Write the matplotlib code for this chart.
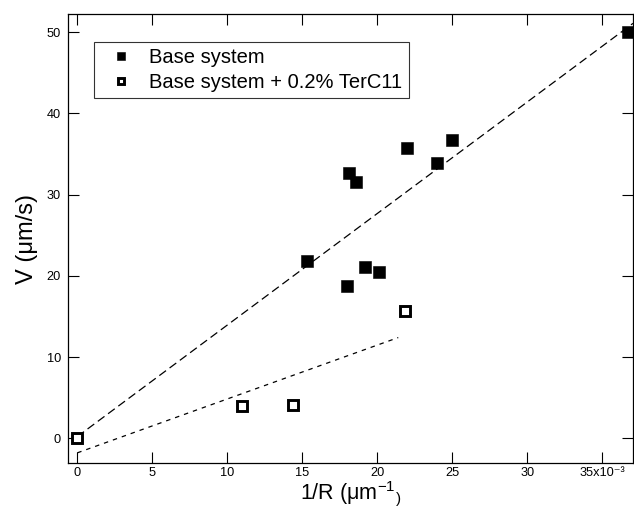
import matplotlib
matplotlib.use("Agg")
import matplotlib.pyplot as plt

# Datos (1/R en unidades de 1e-3 µm^-1, V en µm/s)
base_x = [15.3, 18.1, 18.6, 18.0, 19.2, 20.1, 22.0, 24.0, 25.0, 36.7]
base_y = [21.8, 32.7, 31.6, 18.8, 21.1, 20.5, 35.8, 33.9, 36.7, 50.0]
terc_x = [0.0, 11.0, 14.4, 21.85]
terc_y = [0.0, 4.0, 4.1, 15.7]

# Rectas de ajuste (extremos)
fit_base_x = [0.0, 37.05]
fit_base_y = [0.2, 51.1]
fit_terc_x = [0.0, 21.4]
fit_terc_y = [-1.8, 12.4]

x_ticks = [0, 5, 10, 15, 20, 25, 30, 35]
x_ticklabels = ['0', '5', '10', '15', '20', '25', '30', '35x10\u207b\u00b3']
y_ticks = [0, 10, 20, 30, 40, 50]

plt.rcParams['font.family'] = ['Liberation Sans', 'DejaVu Sans']
plt.rcParams['mathtext.fontset'] = 'custom'
plt.rcParams['mathtext.rm'] = 'Liberation Sans'
plt.rcParams['lines.scale_dashes'] = False

fig = plt.figure(figsize=(6.34, 5.12), dpi=100)
ax = fig.add_axes([68 / 634, 1 - 463 / 512, 565 / 634, 449 / 512])

ax.plot(fit_base_x, fit_base_y, color='black', linewidth=0.9, dashes=(6, 3.2), zorder=1)
ax.plot(fit_terc_x, fit_terc_y, color='black', linewidth=0.9, dashes=(3.2, 3.6), zorder=1)

ax.plot(base_x, base_y, linestyle='none', marker='s', markersize=8.6,
        markerfacecolor='black', markeredgecolor='black', markeredgewidth=0.4,
        label='Base system', zorder=3)
ax.plot(terc_x, terc_y, linestyle='none', marker='s', markersize=6.8,
        markerfacecolor='white', markeredgecolor='black', markeredgewidth=2.1,
        label='Base system + 0.2% TerC11', zorder=3)

ax.set_xlim(-0.62, 37.05)
ax.set_ylim(-3.05, 52.25)
ax.set_xticks(x_ticks)
ax.set_xticklabels(x_ticklabels, fontsize=9.2)
ax.set_yticks(y_ticks)

ax.tick_params(direction='in', length=8, width=0.8, top=True, right=True,
               labelsize=9.2, pad=3)
ax.tick_params(axis='y', pad=5)
for s in ax.spines.values():
    s.set_linewidth(0.9)

ax.set_xlabel('1/R (\u03bcm$^{\\mathregular{-1}}$$_{\\mathregular{)}}$', fontsize=15.5, labelpad=0)
ax.set_ylabel('V (\u03bcm/s)', fontsize=17, labelpad=6)

leg = ax.legend(loc='upper left', bbox_to_anchor=(0.046, 0.937), borderaxespad=0,
                fontsize=14.5, frameon=True, fancybox=False, markerscale=0.72,
                handlelength=2.1, handletextpad=0.35, borderpad=0.3, labelspacing=0.3)
leg.get_frame().set_edgecolor('black')
leg.get_frame().set_linewidth(0.8)

fig.savefig('out.png', dpi=100)
